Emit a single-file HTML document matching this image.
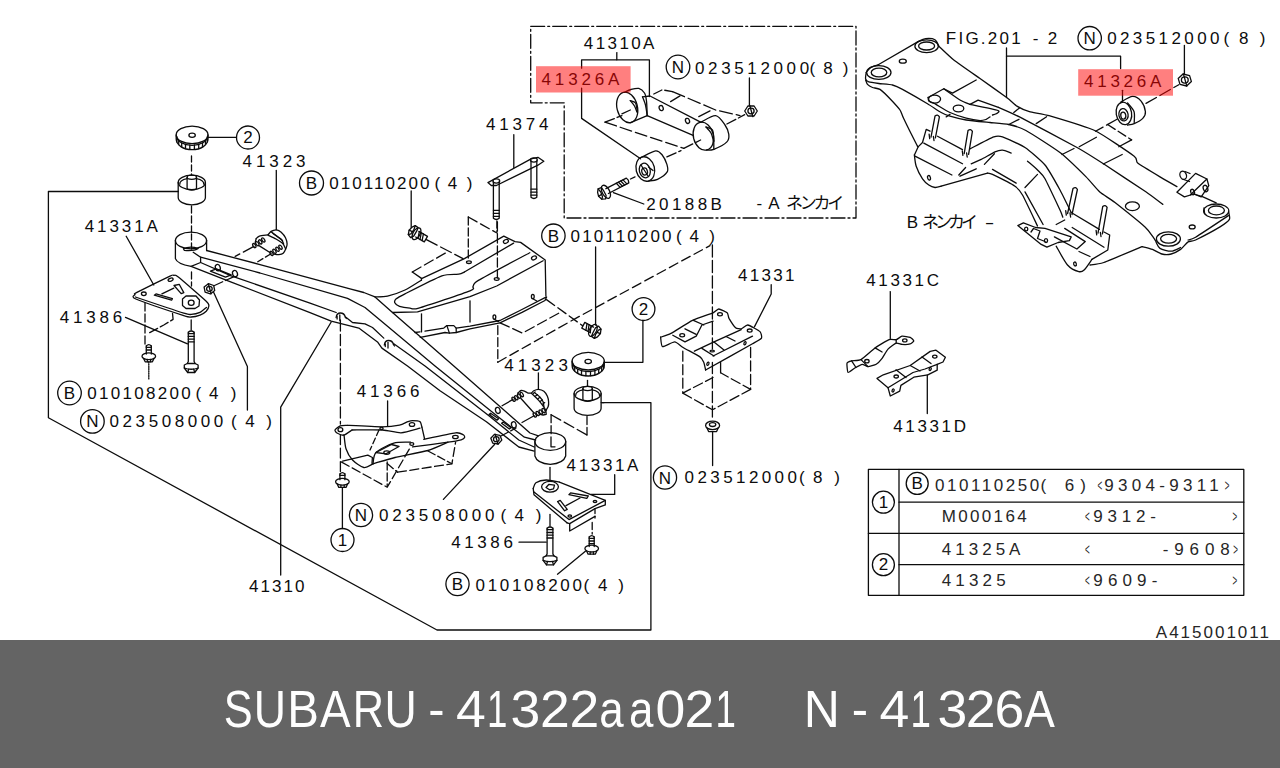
<!DOCTYPE html>
<html><head><meta charset="utf-8"><title>SUBARU - 41322aa021 N - 41326A</title>
<style>
html,body{margin:0;padding:0;background:#fff;}
body{width:1280px;height:768px;overflow:hidden;position:relative;font-family:"Liberation Sans",sans-serif;}
svg{position:absolute;left:0;top:0;display:block;}
#art path,#art ellipse{fill:none;stroke:#0c0c0c;stroke-width:1.3;stroke-linecap:round;stroke-linejoin:round;}
#art path.thin{stroke-width:1.05;stroke:#262626;}
#art text{fill:#0c0c0c;stroke:none;font-family:"Liberation Sans","Noto Sans CJK JP",sans-serif;font-size:17px;}
#art text.thin{fill:#262626;}
#art text.m{text-anchor:middle;}
#bar{position:absolute;left:0;top:640px;width:1280px;height:128px;background:#646464;}
</style></head><body>
<svg id="art" width="1280" height="640" viewBox="0 0 1280 640" role="img" aria-label="SUBARU rear crossmember parts diagram">
<desc>41310A 41326A N023512000(8) 20188B -A FIG.201-2 41374 41323 B010110200(4) 41331A 41386 B010108200(4) N023508000(4) 41310 41366 41331 41331C 41331D M000164 41325A 41325 A415001011</desc>
<path d="M178.2,191.5 L48.4,191.5 L48.4,417.8 L437.0,630.0 L650.9,630.0 L650.9,402.6 L602.0,402.6"/>
<path d="M564.2,102.8 L530.7,102.8 L530.7,26.3 L856.0,26.3 L856.0,218.0 L564.2,218.0 L564.2,102.8" stroke-dasharray="14 3 2 3"/>
<text x="242.5" y="166.95" font-size="18" textLength="63">41323</text>
<ellipse cx="248.0" cy="137.5" rx="11.5" ry="11.5"/>
<text class="m" x="248" y="143.45" font-size="16.5">2</text>
<ellipse cx="311.5" cy="183.0" rx="12.0" ry="12.0"/>
<text class="m" x="311.5" y="189.05" font-size="17">B</text>
<text x="329.35" y="189.45" font-size="18" textLength="100.1">010110200</text>
<text class="m" x="437.3" y="189.45" font-size="18">(</text>
<text class="m" x="452.5" y="189.45" font-size="18">4</text>
<text class="m" x="469.7" y="189.45" font-size="18">)</text>
<text x="485.95" y="130.45" font-size="17" textLength="62.4">41374</text>
<text x="583.85" y="49.45" font-size="17.5" textLength="70.6">41310A</text>
<text x="541.55" y="84.95" font-size="17" textLength="77.9">41326A</text>
<ellipse cx="678.0" cy="67.0" rx="11.8" ry="11.8"/>
<text class="m" x="678" y="73.05" font-size="17">N</text>
<text x="694.95" y="73.65" font-size="17.5" textLength="114.2">023512000</text>
<text class="m" x="812.3" y="73.65" font-size="17.5">(</text>
<text class="m" x="827.95" y="73.65" font-size="17.5">8</text>
<text class="m" x="845.7" y="73.65" font-size="17.5">)</text>
<text x="646.25" y="209.75" font-size="17" textLength="75.7">20188B</text>
<text x="756.6" y="209.15" font-size="16" textLength="22.9">-A</text>
<text x="785.9" y="208.5" font-size="13.5" textLength="58.4">ネンカイ</text>
<text x="945.85" y="44.25" font-size="17.5" textLength="74.8">FIG.201</text>
<text x="1032.65" y="44.25" font-size="17.5" textLength="24.6">-2</text>
<ellipse cx="1089.7" cy="38.2" rx="11.7" ry="11.7"/>
<text class="m" x="1089.7" y="44.25" font-size="17">N</text>
<text x="1107.15" y="44.25" font-size="17" textLength="112.3">023512000</text>
<text class="m" x="1226.3" y="44.25" font-size="17">(</text>
<text class="m" x="1243.85" y="44.25" font-size="17">8</text>
<text class="m" x="1262.7" y="44.25" font-size="17">)</text>
<text x="1084.05" y="86.95" font-size="17" textLength="77.3">41326A</text>
<text x="906.75" y="227.85" font-size="15.5">B</text>
<text x="921.9" y="227.5" font-size="13" textLength="56">ネンカイ</text>
<text x="984.86" y="227.85" font-size="16" textLength="9.6" lengthAdjust="spacingAndGlyphs">-</text>
<text x="84.75" y="232.45" font-size="18" textLength="73.2">41331A</text>
<text x="59.75" y="323.45" font-size="16.5" textLength="62.5">41386</text>
<ellipse cx="69.5" cy="393.0" rx="11.8" ry="11.8"/>
<text class="m" x="69.5" y="399.05" font-size="17">B</text>
<text x="87.25" y="399.45" font-size="17" textLength="103.5">010108200</text>
<text class="m" x="198.3" y="399.45" font-size="17">(</text>
<text class="m" x="213.7" y="399.45" font-size="17">4</text>
<text class="m" x="233.7" y="399.45" font-size="17">)</text>
<ellipse cx="92.4" cy="421.4" rx="11.8" ry="11.8"/>
<text class="m" x="92.4" y="427.45" font-size="17">N</text>
<text x="109.55" y="427.45" font-size="17" textLength="113.7">023508000</text>
<text class="m" x="233.8" y="427.45" font-size="17">(</text>
<text class="m" x="250.1" y="427.45" font-size="17">4</text>
<text class="m" x="269.2" y="427.45" font-size="17">)</text>
<text x="249.05" y="592.45" font-size="18" textLength="55.4">41310</text>
<text x="356.75" y="397.45" font-size="16.5" textLength="62.7">41366</text>
<ellipse cx="342.5" cy="540.0" rx="11.5" ry="11.5"/>
<text class="m" x="342.5" y="545.95" font-size="16.5">1</text>
<ellipse cx="361.0" cy="515.0" rx="11.6" ry="11.6"/>
<text class="m" x="361" y="521.05" font-size="17">N</text>
<text x="379.05" y="520.95" font-size="17" textLength="115.4">023508000</text>
<text class="m" x="503.3" y="520.95" font-size="17">(</text>
<text class="m" x="519.25" y="520.95" font-size="17">4</text>
<text class="m" x="538.7" y="520.95" font-size="17">)</text>
<text x="504.35" y="371.25" font-size="17.5" textLength="63.5">41323</text>
<ellipse cx="643.5" cy="309.1" rx="11.4" ry="11.4"/>
<text class="m" x="643.5" y="315.05" font-size="16.5">2</text>
<ellipse cx="553.4" cy="235.7" rx="11.7" ry="11.7"/>
<text class="m" x="553.4" y="241.75" font-size="17">B</text>
<text x="570.55" y="242.35" font-size="18" textLength="100.9">010110200</text>
<text class="m" x="678.8" y="242.35" font-size="18">(</text>
<text class="m" x="694.25" y="242.35" font-size="18">4</text>
<text class="m" x="712.2" y="242.35" font-size="18">)</text>
<text x="566.55" y="470.65" font-size="17.5" textLength="71.9">41331A</text>
<text x="451.15" y="548.25" font-size="17" textLength="61.7">41386</text>
<ellipse cx="457.5" cy="584.0" rx="11.6" ry="11.6"/>
<text class="m" x="457.5" y="590.05" font-size="17">B</text>
<text x="475.55" y="590.95" font-size="17" textLength="106.4">010108200</text>
<text class="m" x="586.3" y="590.95" font-size="17">(</text>
<text class="m" x="602.65" y="590.95" font-size="17">4</text>
<text class="m" x="621.2" y="590.95" font-size="17">)</text>
<text x="738.05" y="281.45" font-size="17.5" textLength="56.5">41331</text>
<ellipse cx="665.0" cy="477.5" rx="11.6" ry="11.6"/>
<text class="m" x="665" y="483.55" font-size="17">N</text>
<text x="684.55" y="483.45" font-size="18" textLength="112.4">023512000</text>
<text class="m" x="801.8" y="483.45" font-size="18">(</text>
<text class="m" x="817.65" y="483.45" font-size="18">8</text>
<text class="m" x="837.2" y="483.45" font-size="18">)</text>
<text x="866.25" y="285.75" font-size="17" textLength="72.7">41331C</text>
<text x="893.25" y="432.45" font-size="17.5" textLength="72.7">41331D</text>
<text class="thin" x="1155.85" y="638.05" font-size="16.5" textLength="113.1">A415001011</text>
<path d="M868.4,469.4 L1243.8,469.4 L1243.8,595.3 L868.4,595.3 Z"/>
<path d="M899.0,469.4 L899.0,595.3"/>
<path d="M899.0,502.2 L1243.8,502.2"/>
<path d="M868.4,533.4 L1243.8,533.4"/>
<path d="M899.0,564.7 L1243.8,564.7"/>
<ellipse cx="883.4" cy="502.2" rx="11.0" ry="11.0"/>
<text class="m" x="883.4" y="507.95" font-size="16">1</text>
<ellipse cx="883.4" cy="564.7" rx="11.0" ry="11.0"/>
<text class="m" x="883.4" y="570.45" font-size="16">2</text>
<ellipse cx="917.2" cy="483.4" rx="11.0" ry="11.0"/>
<text class="m" x="917.2" y="489.15" font-size="16">B</text>
<text class="thin" x="934.95" y="490.65" font-size="18" textLength="104.2">010110250</text>
<text class="thin m" x="1043.3" y="490.65" font-size="18">(</text>
<text class="thin m" x="1069.45" y="490.65" font-size="18">6</text>
<text class="thin m" x="1083.2" y="490.65" font-size="18">)</text>
<text class="thin" x="1097.5" y="490.65" font-size="18" textLength="4.7" lengthAdjust="spacingAndGlyphs">&lt;</text>
<text class="thin" x="1104.35" y="490.65" font-size="18" textLength="114.45">9304-9311</text>
<text class="thin" x="1224.83" y="490.65" font-size="18" textLength="4.7" lengthAdjust="spacingAndGlyphs">&gt;</text>
<text class="thin" x="941.75" y="522.25" font-size="17" textLength="84.9">M000164</text>
<text class="thin" x="1085" y="522.25" font-size="17" textLength="4.7" lengthAdjust="spacingAndGlyphs">&lt;</text>
<text class="thin" x="1093.35" y="522.25" font-size="17" textLength="62.5">9312-</text>
<text class="thin" x="1232.62" y="522.25" font-size="17" textLength="4.7" lengthAdjust="spacingAndGlyphs">&gt;</text>
<text class="thin" x="941.75" y="555.05" font-size="17" textLength="78.7">41325A</text>
<text class="thin" x="1085" y="555.05" font-size="17" textLength="4.7" lengthAdjust="spacingAndGlyphs">&lt;</text>
<text class="thin" x="1162.7" y="555.05" font-size="17" textLength="67.05">-9608</text>
<text class="thin" x="1233.31" y="555.05" font-size="17" textLength="4.7" lengthAdjust="spacingAndGlyphs">&gt;</text>
<text class="thin" x="941.75" y="585.85" font-size="17.5" textLength="63.9">41325</text>
<text class="thin" x="1085" y="585.85" font-size="17.5" textLength="4.7" lengthAdjust="spacingAndGlyphs">&lt;</text>
<text class="thin" x="1093.35" y="585.85" font-size="17.5" textLength="63.97">9609-</text>
<text class="thin" x="1232.62" y="585.85" font-size="17.5" textLength="4.7" lengthAdjust="spacingAndGlyphs">&gt;</text>
<ellipse cx="192.1" cy="134.9" rx="15.9" ry="8.8"/>
<ellipse cx="192.1" cy="135.2" rx="3.2" ry="2.1"/>
<path d="M176.2,134.9 L176.2,139.1 A15.9,10.6 0 0 0 208.0,139.1 L208.0,134.9"/>
<path d="M176.8,136.5 A15.3,8.8 0 0 0 207.4,136.5"/>
<path d="M176.8,138.8 L176.8,141.9"/>
<path d="M178.7,141.1 L178.7,144.6"/>
<path d="M181.7,143.0 L181.7,146.9"/>
<path d="M185.5,144.3 L185.5,148.5"/>
<path d="M189.8,145.0 L189.8,149.4"/>
<path d="M194.4,145.0 L194.4,149.4"/>
<path d="M198.7,144.3 L198.7,148.5"/>
<path d="M202.5,143.0 L202.5,146.9"/>
<path d="M205.5,141.1 L205.5,144.6"/>
<path d="M207.4,138.8 L207.4,141.9"/>
<path d="M208.0,137.3 L236.5,137.3"/>
<path d="M191.5,156.0 L191.5,175.0" stroke-dasharray="6 3"/>
<ellipse cx="191.8" cy="182.4" rx="13.6" ry="7.2"/>
<path d="M178.2,182.4 L178.2,197.6 A13.6,7.2 0 0 0 205.4,197.6 L205.4,182.4"/>
<ellipse cx="191.8" cy="177.3" rx="4.7" ry="2.1"/>
<path d="M187.1,177.3 L187.1,188.0 A4.7,2.1 0 0 0 196.5,188.0 L196.5,177.3"/>
<path d="M179.8,184.2 A12.0,5.8 0 0 1 187.1,178.6"/>
<path d="M196.5,178.6 A12.0,5.8 0 0 1 203.8,184.2"/>
<path d="M191.5,206.0 L191.5,232.0" stroke-dasharray="7 3"/>
<ellipse cx="191.0" cy="240.5" rx="15.6" ry="8.4"/>
<path d="M175.4,240.5 L175.4,258.6 Q177,263.8 191.1,266.3 L200.6,262.5 L200.6,257.2"/>
<path d="M206.6,240.5 L206.6,250.5"/>
<path d="M191.5,234.0 L191.5,249.0" stroke-dasharray="6 3"/>
<path d="M183.4,248.7 Q190.4,245.6 198.1,248.5 Q194.6,251.2 184.4,250.4 Z"/>
<path d="M206.6,250.5 L260.0,264.6 L350.0,288.9 L363.8,292.5 L375.0,296.9 L392.5,312.5 L453.8,366.0 L530.0,433.0 L538.4,435.8"/>
<path d="M193.2,252.3 L200.6,257.2 L260.0,273.0 L347.5,298.4 L365.0,307.5 L387.5,326.2 L435.0,366.0 L499.0,417.5 L524.4,437.2 L535.6,440.0"/>
<path d="M200.6,262.5 L231.2,275.8 L310.0,303.2 L336.2,312.5"/>
<path d="M346.2,317.5 L352.5,322.5 L365.0,323.8 L372.5,327.5 L383.8,338.1"/>
<path d="M393.8,343.8 L425.0,366.0 L489.2,416.1 L518.8,440.0 L534.2,447.0"/>
<path d="M191.1,266.3 L230.0,281.6 L310.0,312.6 L331.2,321.2 L358.8,328.1 L377.5,341.9 L381.9,348.1 L407.5,366.0 L440.0,390.8 L486.4,421.7 L518.8,447.0 L534.2,451.2"/>
<path d="M336.1,317.5 Q336.8,313.0 340.3,313.0 Q344.3,313.0 345.3,317.0"/>
<path d="M339.8,315.0 L339.8,320.5"/>
<path d="M337.1,316.5 L337.1,319.0"/>
<path d="M345.3,317.0 L346.3,318.5"/>
<path d="M384.3,345.0 Q385.0,340.5 388.5,340.5 Q392.5,340.5 393.5,344.5"/>
<path d="M388.0,342.5 L388.0,348.0"/>
<path d="M385.3,344.0 L385.3,346.5"/>
<path d="M393.5,344.5 L394.5,346.0"/>
<ellipse cx="217.8" cy="267.6" rx="2.4" ry="3.2" transform="rotate(-20 217.8 267.6)"/>
<ellipse cx="235.0" cy="273.6" rx="2.4" ry="3.2" transform="rotate(-20 235.0 273.6)"/>
<path d="M210.4,271.2 L216.4,268.8 L231.2,274.8 L225.5,277.2 Z"/>
<path d="M276.3,170.5 L276.3,229.8"/>
<path d="M256.2,238.6 C256.6,238.3 257.8,236.6 259.4,236.1 C261.0,235.6 266.9,235.1 268.0,234.9"/>
<path d="M268.0,234.9 C268.4,234.4 270.0,232.1 271.1,231.4 C272.2,230.7 275.3,229.7 276.6,229.8 C277.9,229.9 280.0,231.1 281.2,232.2 C282.4,233.3 284.7,236.1 285.5,237.7 C286.3,239.3 287.0,242.4 287.1,243.9 C287.2,245.4 286.4,247.3 285.9,248.6 C285.4,249.9 284.1,252.5 283.2,253.3 C282.3,254.1 280.2,254.5 278.9,254.6 C277.6,254.7 274.1,254.1 273.4,254.0"/>
<path d="M268.4,235.3 C269.4,235.8 274.1,237.9 276.0,239.0 C277.9,240.1 281.5,242.2 282.8,243.5 C284.1,244.8 285.2,248.3 285.6,249.0"/>
<path d="M271.1,231.8 C272.4,232.8 279.5,237.6 281.2,239.2 C282.9,240.8 283.3,243.3 283.6,243.9"/>
<path d="M273.0,233.4 L282.5,240.6"/>
<ellipse cx="254.3" cy="245.6" rx="1.3" ry="2.3" transform="rotate(-32 254.3 245.6)"/>
<ellipse cx="257.3" cy="243.7" rx="1.3" ry="2.3" transform="rotate(-32 257.3 243.7)"/>
<ellipse cx="260.3" cy="241.9" rx="1.3" ry="2.3" transform="rotate(-32 260.3 241.9)"/>
<ellipse cx="263.3" cy="240.0" rx="1.3" ry="2.3" transform="rotate(-32 263.3 240.0)"/>
<ellipse cx="271.5" cy="253.4" rx="1.3" ry="2.3" transform="rotate(-32 271.5 253.4)"/>
<ellipse cx="274.5" cy="251.3" rx="1.3" ry="2.3" transform="rotate(-32 274.5 251.3)"/>
<ellipse cx="277.5" cy="249.3" rx="1.3" ry="2.3" transform="rotate(-32 277.5 249.3)"/>
<ellipse cx="280.5" cy="247.2" rx="1.3" ry="2.3" transform="rotate(-32 280.5 247.2)"/>
<path d="M259.4,245.9 L271.1,253.3"/>
<path d="M256.2,238.6 L255.2,242.5"/>
<path d="M253.9,246.4 L235.2,256.4" stroke-dasharray="12 4"/>
<path d="M270.6,254.0 L256.2,262.7" stroke-dasharray="6 3"/>
<path d="M126.2,236.2 L153.8,285.0"/>
<path d="M135.0,294.6 C135.1,293.8 132.8,294.4 136.9,292.3 C141.0,290.2 165.7,278.2 170.0,276.2 C174.3,274.2 173.0,275.3 174.0,275.4 C175.0,275.5 174.5,274.0 178.3,277.0 C182.1,280.0 202.6,297.8 206.2,301.2 C209.8,304.6 208.8,305.0 208.8,306.2 C208.8,307.4 207.2,310.1 206.2,311.2 C205.2,312.2 201.8,314.5 200.0,315.2 C198.2,315.9 193.1,317.0 191.2,317.0 C189.3,317.0 190.3,317.7 183.8,315.6 C177.3,313.5 141.5,301.4 135.8,299.0 C130.1,296.6 134.9,295.4 135.0,294.6 Z"/>
<path d="M135.4,297.0 C141.0,298.9 177.3,311.1 183.8,313.1 C190.3,315.1 189.3,314.5 191.2,314.4 C193.1,314.3 198.2,313.2 200.0,312.4 C201.8,311.6 205.7,308.0 206.5,307.4"/>
<ellipse cx="170.6" cy="279.7" rx="2.6" ry="1.5" transform="rotate(-20 170.6 279.7)"/>
<ellipse cx="143.8" cy="293.8" rx="2.4" ry="1.8"/>
<path d="M182.5,299.0 L186.0,296.0 L196.0,296.0 L199.5,300.0 L199.0,306.0 L195.0,308.5 L186.0,308.5 L182.5,305.5 Z"/>
<ellipse cx="191.2" cy="302.7" rx="2.9" ry="2.6"/>
<path d="M174.0,285.5 L179.2,284.3 L183.8,292.6 L181.2,293.6 Z"/>
<path d="M154.3,295.2 L156.0,293.9 L172.4,298.6 L171.6,300.2 Z"/>
<path d="M161.9,293.8 L173.8,288.1"/>
<path d="M145.0,303.0 L145.0,346.0" stroke-dasharray="8 3"/>
<path d="M172.5,313.3 L173.1,319.4 L163.8,325.0 L147.5,333.8" stroke-dasharray="9 3"/>
<path d="M125.5,317.3 L187.5,343.8"/>
<path d="M191.2,320.0 L191.2,330.0"/>
<path d="M188.3,332.2 L188.3,361.5 L187.3,363.5"/>
<path d="M194.1,332.2 L194.1,361.5 L195.1,363.5"/>
<path d="M188.3,332.2 Q191.2,329.7 194.1,332.2"/>
<path d="M188.3,333.7 L194.1,333.7"/>
<path d="M188.3,336.4 L194.1,336.4"/>
<path d="M188.3,339.2 L194.1,339.2"/>
<path d="M188.3,341.9 L194.1,341.9"/>
<path d="M187.3,363.5 L184.3,365.0 L184.3,368.0 L187.7,372.5 L194.7,372.5 L198.1,368.0 L198.1,365.0 L195.1,363.5 Z"/>
<path d="M184.3,368.0 Q191.2,370.5 198.1,368.0"/>
<path d="M188.7,369.1 L187.7,372.5"/>
<path d="M193.7,369.1 L194.7,372.5"/>
<path d="M146.3,354.1 L146.3,346.0"/>
<path d="M151.3,354.1 L151.3,346.0"/>
<path d="M146.3,346.0 Q148.8,343.4 151.3,346.0"/>
<path d="M146.3,347.4 L151.3,347.4"/>
<path d="M146.3,350.0 L151.3,350.0"/>
<ellipse cx="148.8" cy="356.2" rx="6.8" ry="3.4"/>
<path d="M143.6,358.4 L145.2,361.8 L152.4,361.8 L154.0,358.4"/>
<path d="M147.3,359.5 L147.3,361.8"/>
<path d="M150.6,359.5 L150.6,361.8"/>
<path d="M148.8,361.6 L148.8,380" stroke-dasharray="1.2 1.1"/>
<path d="M214.7,290.6 L210.4,293.9 L205.1,292.1 L204.1,287.0 L208.4,283.7 L213.7,285.5 Z"/>
<ellipse cx="209.4" cy="288.8" rx="2.8" ry="2.5"/>
<path d="M208.3,283.8 L211.1,293.8"/>
<path d="M213.5,292.0 L247.4,366.5 L247.4,410.0"/>
<path d="M214.5,285.5 L233.5,276.8" stroke-dasharray="9 3"/>
<path d="M331.2,322.0 L280.7,407.2 L280.7,575.0"/>
<path d="M191.5,272.0 L191.5,286.0" stroke-dasharray="7 3"/>
<path d="M375.0,296.9 C376.7,296.8 383.5,297.1 387.5,296.2 C391.5,295.3 400.5,292.1 405.0,290.0 C409.5,287.9 419.0,281.5 421.2,280.2"/>
<path d="M421.5,280.3 L421.5,278.6 L464.4,258.6 L503.8,236.1 L515.0,241.7 L520.6,242.4 L545.2,260.0 L545.9,295.9"/>
<path d="M513.6,243.1 L464.4,272.0"/>
<path d="M464.4,272.0 C463.7,272.3 461.4,273.8 458.8,274.2 C456.2,274.6 448.2,273.5 441.9,275.8 C435.6,278.1 410.3,291.1 405.0,293.8 C399.7,296.5 397.4,297.8 396.2,298.8 C395.0,299.9 394.4,301.9 394.8,302.8 C395.2,303.7 397.7,305.8 399.5,306.4 C401.3,307.0 407.7,308.0 410.0,308.2 C412.3,308.4 411.8,310.1 418.8,308.1 C425.8,306.1 463.7,293.3 470.0,290.8 C476.3,288.3 472.0,287.9 473.0,286.7 C474.0,285.5 471.8,284.4 478.4,280.4 C485.0,276.4 523.8,255.9 529.8,252.7"/>
<path d="M543.1,260.7 L496.7,286.0 L470.0,296.7 L417.5,311.9 L392.5,312.5"/>
<ellipse cx="505.9" cy="241.4" rx="2.6" ry="1.8" transform="rotate(-25 505.9 241.4)"/>
<ellipse cx="534.0" cy="257.9" rx="2.6" ry="1.8" transform="rotate(-25 534.0 257.9)"/>
<ellipse cx="468.9" cy="262.2" rx="2.4" ry="1.3"/>
<ellipse cx="496.7" cy="279.0" rx="2.4" ry="1.3"/>
<path d="M421.5,313.8 L421.5,331.9"/>
<path d="M470.0,300.8 L470.0,322.0"/>
<path d="M415.0,332.5 L420.0,331.9"/>
<path d="M425.0,331.2 L443.8,328.1 L446.9,325.6 L453.8,325.6 L456.2,328.1 L470.0,326.2 L500.0,320.5 L520.0,310.5 L546.0,297.2"/>
<path d="M420.3,337.4 L445.0,332.5 L449.4,333.1 L456.2,332.5 L470.0,328.8 L500.0,322.8 L522.0,312.4 L545.0,300.5 L546.6,297.0"/>
<path d="M446.9,325.6 L449.4,333.1"/>
<path d="M456.2,328.1 L456.2,332.5"/>
<ellipse cx="494.4" cy="317.1" rx="1.4" ry="2.2"/>
<path d="M494.4,319.3 L498.4,321.6"/>
<ellipse cx="532.8" cy="296.5" rx="1.4" ry="2.2"/>
<path d="M532.8,298.7 L536.8,301.0"/>
<path d="M468.3,217.0 L468.3,261.0" stroke-dasharray="8 3"/>
<path d="M468.3,217.0 L497.4,233.3" stroke-dasharray="10 4"/>
<path d="M497.4,222.0 L497.4,278.0" stroke-dasharray="9 3"/>
<path d="M426.4,239.6 L463.0,258.6" stroke-dasharray="12 4"/>
<path d="M412.3,272.0 L447.5,251.8" stroke-dasharray="10 4"/>
<path d="M412.3,272.0 L421.5,278.4"/>
<path d="M500.0,322.8 L522.5,333.1 L560.0,312.5" stroke-dasharray="10 4"/>
<path d="M546.5,299.6 L582.5,325.6" stroke-dasharray="10 4"/>
<path d="M497.8,325.6 L497.8,362.2" stroke-dasharray="9 3"/>
<path d="M497.8,362.2 L576.2,318.1 L710.0,245.6" stroke-dasharray="9.5 4.5"/>
<path d="M411.2,191.0 L411.2,227.5"/>
<path d="M412.1,227.1 L415.2,225.6 L418.1,227.6 L416.8,230.9 L413.7,236.2 L410.6,237.7 L408.3,234.6 L409.1,230.2 Z"/>
<path d="M415.2,225.6 L413.9,229.7 L410.9,233.8 L408.3,234.6"/>
<path d="M409.1,230.2 L412.3,231.7"/>
<ellipse cx="416.5" cy="233.7" rx="3.5" ry="6.5" transform="rotate(30 416.5 233.7)"/>
<path d="M419.3,231.6 L418.0,238.3"/>
<path d="M421.3,232.8 L420.0,239.5"/>
<path d="M423.4,234.0 L422.1,240.7"/>
<path d="M418.9,231.4 L427.5,236.4 L424.3,241.9 L415.7,237.0"/>
<path d="M595.6,247.0 L595.6,325.0"/>
<path d="M597.5,336.8 L594.4,338.4 L591.5,336.5 L592.7,333.2 L595.5,327.8 L598.6,326.2 L601.0,329.2 L600.4,333.6 Z"/>
<path d="M594.4,338.4 L595.6,334.3 L598.5,330.1 L601.0,329.2"/>
<path d="M600.4,333.6 L597.1,332.3"/>
<ellipse cx="592.9" cy="330.4" rx="3.5" ry="6.5" transform="rotate(208 592.9 330.4)"/>
<path d="M590.2,332.5 L591.2,325.9"/>
<path d="M588.0,331.4 L589.1,324.7"/>
<path d="M585.9,330.3 L587.0,323.6"/>
<path d="M590.5,332.7 L581.8,328.1 L584.8,322.4 L593.5,327.1"/>
<path d="M513.8,134.7 L513.8,167.5"/>
<path d="M487.9,182.6 L531.1,158.9 L537.9,157.3 L543.8,161.3 L537.9,165.2 L496.4,185.5 L491.3,185.5 Z"/>
<ellipse cx="496.3" cy="181.0" rx="3.4" ry="2.1"/>
<path d="M493.4,182.0 L493.4,218.3 Q496.3,220.8 499.2,218.3 L499.2,182.0"/>
<path d="M493.4,216.3 L499.2,216.3"/>
<path d="M493.4,213.3 L499.2,213.3"/>
<path d="M493.4,210.3 L499.2,210.3"/>
<ellipse cx="533.9" cy="160.0" rx="3.4" ry="2.1"/>
<path d="M531.0,161.0 L531.0,197.2 Q533.9,199.7 536.8,197.2 L536.8,161.0"/>
<path d="M531.0,195.2 L536.8,195.2"/>
<path d="M531.0,192.2 L536.8,192.2"/>
<path d="M531.0,189.2 L536.8,189.2"/>
<path d="M496.9,221.0 L496.9,232.0" stroke-dasharray="7 3"/>
<path d="M387.6,401.0 L387.6,426.2"/>
<path d="M340.4,320.0 L340.4,424.0" stroke-dasharray="11 3.5"/>
<path d="M347.3,425.3 C346.6,425.4 341.4,425.3 340.2,425.8 C339.0,426.3 335.3,429.3 335.0,430.0 C334.7,430.7 336.1,432.5 337.0,433.0 C337.9,433.5 342.3,435.5 343.8,435.2 C345.3,434.9 351.2,430.5 352.0,430.0"/>
<ellipse cx="340.4" cy="429.7" rx="2.4" ry="2.0"/>
<path d="M347.3,425.3 C351.3,425.5 375.9,426.8 382.0,426.8 C388.1,426.8 396.5,425.8 399.5,425.2 C402.5,424.6 406.5,422.1 408.0,421.6 C409.5,421.1 411.1,420.6 412.5,420.6 C413.9,420.6 418.9,420.8 420.0,421.6 C421.1,422.4 421.7,426.5 421.9,427.2"/>
<path d="M352.0,430.0 C355.6,430.0 376.8,429.7 382.5,430.0 C388.2,430.3 396.6,433.0 401.0,432.8 C405.4,432.6 417.8,428.7 420.0,428.2"/>
<ellipse cx="412.0" cy="424.5" rx="2.7" ry="1.9"/>
<ellipse cx="381.5" cy="428.3" rx="1.6" ry="1.2"/>
<path d="M421.9,427.2 L424.5,438.5"/>
<path d="M423.8,439.4 C427.5,438.6 451.0,433.3 455.6,432.8 C460.2,432.3 462.1,434.2 463.1,434.7 C464.2,435.2 464.8,436.9 464.6,437.5 C464.4,438.1 463.1,439.3 461.2,439.8 C459.3,440.3 453.7,441.4 448.0,442.2 C442.3,443.0 416.6,446.4 412.5,446.9"/>
<ellipse cx="455.4" cy="437.0" rx="2.8" ry="1.7"/>
<path d="M344.0,434.7 C344.3,436.6 344.9,445.4 346.0,448.8 C347.1,452.2 350.1,457.5 352.5,460.0 C354.9,462.5 361.1,467.0 363.8,467.5 C366.5,468.0 371.8,464.3 373.0,463.8"/>
<path d="M373.0,463.8 C373.4,462.3 373.2,455.3 376.0,452.5 C378.8,449.7 389.2,444.5 393.8,443.1 C398.4,441.7 408.4,442.3 410.6,442.2"/>
<path d="M373.0,463.8 C375.2,463.2 389.5,458.8 395.0,457.5 C400.5,456.2 422.7,452.0 428.0,450.5 C433.3,449.0 446.0,443.0 448.0,442.2"/>
<path d="M376.0,452.5 L391.5,444.5 L399.0,446.5 L386.0,453.8 Z"/>
<ellipse cx="386.8" cy="452.6" rx="3.0" ry="1.7"/>
<ellipse cx="411.8" cy="444.0" rx="2.0" ry="1.4"/>
<path d="M379.0,430.0 L370.0,450.0" stroke-dasharray="6 3"/>
<path d="M341.2,461.9 L387.2,487.2 L410.6,446.9" stroke-dasharray="9 3.5"/>
<path d="M342.6,461.2 L367.8,455.2 L372.4,457.5 L372.0,463.4"/>
<path d="M397.5,472.2 L451.9,463.8 L455.6,442.2" stroke-dasharray="9 3.5"/>
<path d="M387.2,462.0 L387.2,486.2" stroke-dasharray="8 3"/>
<path d="M428.0,451.0 L451.9,463.8" stroke-dasharray="8 3"/>
<path d="M387.2,463.5 L397.5,472.2" stroke-dasharray="8 3"/>
<path d="M340.4,434.6 L340.4,472.0" stroke-dasharray="10 3.5"/>
<path d="M339.9,479.7 L339.9,474.0"/>
<path d="M344.9,479.7 L344.9,474.0"/>
<path d="M339.9,474.0 Q342.4,471.4 344.9,474.0"/>
<path d="M339.9,475.4 L344.9,475.4"/>
<ellipse cx="342.4" cy="481.8" rx="6.8" ry="3.4"/>
<path d="M337.2,484.0 L338.8,487.4 L346.0,487.4 L347.6,484.0"/>
<path d="M340.9,485.1 L340.9,487.4"/>
<path d="M344.2,485.1 L344.2,487.4"/>
<path d="M342.4,488.0 L342.4,528.5"/>
<path d="M501.8,440.1 L498.2,444.0 L492.7,443.1 L490.8,438.3 L494.4,434.4 L499.9,435.3 Z"/>
<ellipse cx="496.3" cy="439.2" rx="2.8" ry="2.5"/>
<path d="M495.2,434.2 L498.0,444.2"/>
<path d="M494.5,444.5 L443.4,499.4"/>
<path d="M501.0,436.0 L516.0,428.0" stroke-dasharray="8 3"/>
<ellipse cx="497.8" cy="410.4" rx="2.3" ry="3.1" transform="rotate(-15 497.8 410.4)"/>
<ellipse cx="513.8" cy="424.8" rx="2.3" ry="3.1" transform="rotate(-15 513.8 424.8)"/>
<path d="M489.0,414.4 L490.6,413.2 L498.6,418.8 L497.0,420.2 Z"/>
<path d="M501.6,423.3 L503.2,422.1 L511.0,427.8 L509.4,429.0 Z"/>
<path d="M538.4,372.8 L538.4,389.4"/>
<path d="M518.1,392.8 C518.5,392.5 520.4,390.7 521.2,390.5 C522.0,390.3 523.6,390.9 524.4,391.2 C525.2,391.5 526.6,392.5 527.5,392.8 C528.4,393.1 530.9,393.1 531.4,393.2"/>
<path d="M531.4,393.2 C531.7,392.9 532.9,391.3 533.8,390.8 C534.7,390.3 537.1,389.2 538.4,389.3 C539.7,389.4 542.7,390.3 543.9,391.2 C545.1,392.1 546.8,394.9 547.4,396.3 C548.0,397.7 548.5,400.4 548.6,401.8 C548.7,403.2 548.6,405.4 548.2,406.5 C547.8,407.6 546.2,409.9 545.9,410.4"/>
<path d="M545.9,410.4 L546.2,414.3 L543.1,415.0 L540.0,414.3"/>
<path d="M531.8,393.6 C532.5,394.3 537.3,398.8 538.5,400.2 C539.7,401.6 543.2,406.2 543.9,407.2 C544.6,408.2 545.7,410.1 545.9,410.4"/>
<path d="M534.5,392.6 C535.0,393.1 539.1,396.3 540.0,397.2 C540.9,398.1 542.7,400.9 543.1,401.8 C543.5,402.7 543.8,406.0 543.9,406.5"/>
<path d="M533.2,393.4 L535.1,392.0"/>
<path d="M535.6,396.0 L537.5,394.6"/>
<path d="M538.0,398.7 L539.9,397.3"/>
<path d="M540.4,401.3 L542.3,399.9"/>
<path d="M542.8,404.0 L544.7,402.6"/>
<ellipse cx="513.6" cy="399.2" rx="1.3" ry="2.3" transform="rotate(-30 513.6 399.2)"/>
<ellipse cx="516.3" cy="397.7" rx="1.3" ry="2.3" transform="rotate(-30 516.3 397.7)"/>
<ellipse cx="519.1" cy="396.1" rx="1.3" ry="2.3" transform="rotate(-30 519.1 396.1)"/>
<ellipse cx="521.8" cy="394.6" rx="1.3" ry="2.3" transform="rotate(-30 521.8 394.6)"/>
<ellipse cx="534.8" cy="415.0" rx="1.3" ry="2.3" transform="rotate(-30 534.8 415.0)"/>
<ellipse cx="537.7" cy="413.5" rx="1.3" ry="2.3" transform="rotate(-30 537.7 413.5)"/>
<ellipse cx="540.7" cy="412.1" rx="1.3" ry="2.3" transform="rotate(-30 540.7 412.1)"/>
<ellipse cx="543.6" cy="410.6" rx="1.3" ry="2.3" transform="rotate(-30 543.6 410.6)"/>
<path d="M518.1,392.8 L517.4,395.6"/>
<path d="M521.2,398.7 L533.8,412.7"/>
<path d="M513.0,399.4 L502.1,405.7"/>
<path d="M534.1,415.8 L522.0,422.5"/>
<ellipse cx="550.3" cy="441.5" rx="15.4" ry="8.9"/>
<path d="M534.9,441.5 L534.9,456 Q537,463.5 550.3,464.3 Q563.5,463.5 565.7,456 L565.7,441.5"/>
<path d="M551.1,414.7 L551.1,434.0" stroke-dasharray="8 3"/>
<path d="M551.0,437.0 L551.0,446.8 L555.0,446.8"/>
<path d="M551.1,414.7 L587.0,435.0" stroke-dasharray="11 4"/>
<path d="M587.0,416.5 L587.0,435.0" stroke-dasharray="8 3"/>
<ellipse cx="588.2" cy="361.2" rx="16.1" ry="8.8"/>
<ellipse cx="588.2" cy="361.5" rx="3.2" ry="2.1"/>
<path d="M572.1,361.2 L572.1,365.4 A16.1,10.6 0 0 0 604.3,365.4 L604.3,361.2"/>
<path d="M572.7,362.8 A15.5,8.8 0 0 0 603.7,362.8"/>
<path d="M572.8,365.1 L572.8,368.2"/>
<path d="M574.7,367.4 L574.7,370.9"/>
<path d="M577.7,369.3 L577.7,373.2"/>
<path d="M581.5,370.6 L581.5,374.8"/>
<path d="M585.9,371.3 L585.9,375.7"/>
<path d="M590.5,371.3 L590.5,375.7"/>
<path d="M594.9,370.6 L594.9,374.8"/>
<path d="M598.7,369.3 L598.7,373.2"/>
<path d="M601.7,367.4 L601.7,370.9"/>
<path d="M603.6,365.1 L603.6,368.2"/>
<path d="M604.5,362.3 L642.9,362.3 L642.9,320.5"/>
<path d="M587.5,380.4 L587.5,386.3"/>
<ellipse cx="587.6" cy="393.6" rx="13.5" ry="7.2"/>
<path d="M574.1,393.6 L574.1,408.2 A13.5,7.2 0 0 0 601.1,408.2 L601.1,393.6"/>
<ellipse cx="587.6" cy="388.5" rx="4.7" ry="2.1"/>
<path d="M582.9,388.5 L582.9,399.2 A4.7,2.1 0 0 0 592.3,399.2 L592.3,388.5"/>
<path d="M575.7,395.4 A11.9,5.8 0 0 1 582.9,389.8"/>
<path d="M592.3,389.8 A11.9,5.8 0 0 1 599.5,395.4"/>
<path d="M601.2,402.6 L604.0,402.6"/>
<path d="M550.0,467.4 L550.0,479.4"/>
<path d="M533.2,488.5 C533.6,487.7 534.2,483.9 535.9,482.8 C537.6,481.7 543.1,480.1 546.2,480.0 C549.3,479.9 557.6,481.9 559.4,482.2"/>
<path d="M559.4,482.2 L605.3,500.4 L605.3,504.9 L595.0,508.6 L569.7,523.6 L567.0,522.8"/>
<path d="M605.3,500.4 L569.0,519.6 L534.0,492.0"/>
<path d="M533.2,488.5 L534.0,494.8 L567.0,522.8"/>
<ellipse cx="550.0" cy="486.8" rx="8.4" ry="5.4"/>
<path d="M546,487.5 L549,484.3 L554.5,485.2 L553.5,488.8 L549.5,489.8 Z"/>
<path d="M568.9,494.6 L570.6,492.9 L588.3,496.0 L586.8,498.3 Z"/>
<path d="M557.6,501.6 L560.2,500.4 L567.2,509.4 L564.6,510.8 Z"/>
<path d="M580.0,498.0 L566.0,505.6"/>
<ellipse cx="569.8" cy="516.0" rx="1.8" ry="1.1"/>
<ellipse cx="595.0" cy="501.4" rx="1.8" ry="1.1"/>
<path d="M569.7,523.6 L569.7,531.0 L595.0,516.4"/>
<path d="M595.0,508.6 L595.0,518.0" stroke-dasharray="5 2.5"/>
<path d="M592.2,522.5 L592.2,534.0" stroke-dasharray="7 3"/>
<path d="M614.7,474.7 L614.7,494.4 L591.2,494.4"/>
<path d="M550.0,514.5 L550.0,526.2"/>
<path d="M547.1,528.2 L547.1,553.9 L546.1,555.9"/>
<path d="M552.9,528.2 L552.9,553.9 L553.9,555.9"/>
<path d="M547.1,528.2 Q550.0,525.7 552.9,528.2"/>
<path d="M547.1,529.7 L552.9,529.7"/>
<path d="M547.1,532.5 L552.9,532.5"/>
<path d="M547.1,535.2 L552.9,535.2"/>
<path d="M547.1,538.0 L552.9,538.0"/>
<path d="M546.1,555.9 L543.1,557.4 L543.1,560.4 L546.5,564.9 L553.5,564.9 L556.9,560.4 L556.9,557.4 L553.9,555.9 Z"/>
<path d="M543.1,560.4 Q550.0,562.9 556.9,560.4"/>
<path d="M547.5,561.5 L546.5,564.9"/>
<path d="M552.5,561.5 L553.5,564.9"/>
<path d="M519.0,542.2 L546.2,542.2"/>
<path d="M589.2,546.5 L589.2,537.0"/>
<path d="M594.2,546.5 L594.2,537.0"/>
<path d="M589.2,537.0 Q591.7,534.4 594.2,537.0"/>
<path d="M589.2,538.4 L594.2,538.4"/>
<path d="M589.2,541.0 L594.2,541.0"/>
<path d="M589.2,543.6 L594.2,543.6"/>
<ellipse cx="591.7" cy="548.6" rx="6.8" ry="3.4"/>
<path d="M586.5,550.8 L588.1,554.2 L595.3,554.2 L596.9,550.8"/>
<path d="M590.2,551.9 L590.2,554.2"/>
<path d="M593.5,551.9 L593.5,554.2"/>
<path d="M585.4,551.2 L557.5,574.2"/>
<path d="M616.8,52.6 L616.8,59.8"/>
<path d="M581.6,68.2 L581.6,59.8 L649.4,59.8 L649.4,96.5"/>
<path d="M581.6,88.2 L581.6,118.4 L640.6,158.8"/>
<ellipse cx="627.2" cy="107.4" rx="10.2" ry="15.6" transform="rotate(-14 627.2 107.4)"/>
<path d="M624.0,92.4 C625.0,92.0 628.8,90.1 631.0,89.5 C633.2,88.9 636.8,87.9 638.8,88.4 C640.8,88.9 643.3,91.1 644.5,93.0 C645.7,94.9 646.1,97.6 646.5,101.0 C646.9,104.4 647.1,113.4 647.2,115.6"/>
<path d="M630.5,122.6 L647.2,115.6"/>
<path d="M630.3,100.6 C630.9,101.3 633.6,104.5 634.5,106.0 C635.4,107.5 636.6,111.1 636.9,111.9"/>
<path d="M630.3,100.6 C631.0,100.9 634.5,101.4 635.5,103.0 C636.5,104.6 637.2,111.2 637.5,112.5"/>
<path d="M621.9,113.8 L630.3,110.0"/>
<path d="M642.5,96.9 L650.0,96.0 L700.6,122.2"/>
<path d="M642.5,96.9 C642.9,98.0 644.9,102.5 645.5,105.0 C646.1,107.5 647.0,114.2 647.2,115.6"/>
<path d="M647.2,115.6 L693.1,135.3"/>
<ellipse cx="661.2" cy="108.1" rx="2.0" ry="2.6" transform="rotate(-20 661.2 108.1)"/>
<ellipse cx="687.5" cy="120.9" rx="2.0" ry="2.6" transform="rotate(-20 687.5 120.9)"/>
<path d="M653.8,94.0 L662.2,89.8 L672.5,91.6" stroke-dasharray="9 3"/>
<path d="M672.5,91.6 L715.6,110.0 L740.0,115.6" stroke-dasharray="13 4"/>
<path d="M670.6,101.6 L680.0,95.9"/>
<path d="M698.8,116.6 L710.0,110.9"/>
<ellipse cx="703.4" cy="136.2" rx="10.0" ry="14.2" transform="rotate(-14 703.4 136.2)"/>
<path d="M700.5,122.4 C702.8,121.4 711.9,115.2 715.6,115.6 C719.3,116.0 723.0,122.2 725.0,125.0 C727.0,127.8 728.5,131.9 728.8,134.4 C729.1,136.9 729.1,139.7 726.9,141.9 C724.6,144.2 716.9,148.2 713.8,149.4 C710.7,150.6 707.6,150.1 706.5,150.2"/>
<path d="M706.0,127.0 C706.7,127.8 710.0,131.1 711.0,133.0 C712.0,134.9 713.2,139.9 713.5,141.0"/>
<path d="M706.0,127.0 C706.9,127.4 711.4,128.1 712.5,130.0 C713.6,131.9 713.8,139.5 714.0,141.0"/>
<path d="M713.8,141.0 L713.8,149.4"/>
<path d="M749.4,78.0 L749.4,105.2"/>
<path d="M757.3,111.0 L754.1,116.0 L747.9,116.0 L744.7,111.0 L747.9,106.0 L754.1,106.0 Z"/>
<ellipse cx="751.0" cy="111.0" rx="3.1" ry="2.8"/>
<path d="M749.7,105.3 L752.9,116.7"/>
<path d="M726.9,124.0 L744.7,114.7" stroke-dasharray="10 3"/>
<path d="M605.0,122.2 L621.9,115.6" stroke-dasharray="10 3"/>
<path d="M605.0,122.2 L683.8,148.4" stroke-dasharray="12 4"/>
<path d="M683.8,148.4 L700.6,140.0" stroke-dasharray="10 3"/>
<path d="M666.9,156.9 L681.0,150.6" stroke-dasharray="10 3"/>
<ellipse cx="645.3" cy="169.0" rx="9.2" ry="12.4" transform="rotate(-14 645.3 169.0)"/>
<path d="M641.5,157.4 C643.6,156.4 652.5,151.3 655.6,150.9 C658.7,150.5 660.5,153.0 662.2,155.0 C663.9,157.0 666.1,161.9 666.9,164.4 C667.6,166.9 668.6,169.7 667.2,171.9 C665.8,174.2 660.3,178.0 657.5,179.4 C654.7,180.8 649.9,180.9 648.5,181.2"/>
<ellipse cx="644.8" cy="170.5" rx="5.4" ry="7.4" transform="rotate(-14 644.8 170.5)"/>
<ellipse cx="644.6" cy="171.5" rx="2.8" ry="3.6" transform="rotate(-14 644.6 171.5)"/>
<path d="M641.0,165.0 L648.0,176.0"/>
<path d="M648.5,167.0 L653.0,170.5"/>
<path d="M597.6,192.3 L598.1,188.9 L601.4,187.5 L603.4,190.3 L606.1,195.5 L605.6,198.9 L601.8,199.2 L598.6,196.3 Z"/>
<path d="M598.1,188.9 L600.8,192.0 L602.5,196.7 L601.8,199.2"/>
<path d="M598.6,196.3 L601.6,194.4"/>
<ellipse cx="605.9" cy="191.8" rx="3.7" ry="7.1" transform="rotate(-27.5 605.9 191.8)"/>
<path d="M605.9,188.7 L626.3,178.1 L628.3,180.1 L628.8,182.9 L608.4,193.5"/>
<path d="M616.3,183.3 L620.2,187.4"/>
<path d="M618.5,182.2 L622.5,186.2"/>
<path d="M620.8,181.0 L624.7,185.1"/>
<path d="M623.0,179.9 L626.9,183.9"/>
<path d="M630.5,179.0 L637.5,175.6" stroke-dasharray="5 3"/>
<path d="M613.4,192.6 L643.8,204.0"/>
<path d="M1006.5,48.0 L1006.5,97.5"/>
<path d="M1006.5,56.2 L1120.6,56.2 L1120.6,68.5"/>
<path d="M1122.5,90.3 L1122.5,102.3"/>
<path d="M1184.4,45.5 L1184.4,73.4"/>
<path d="M1191.4,81.6 L1186.6,86.0 L1180.0,84.4 L1178.2,78.4 L1183.0,74.0 L1189.6,75.6 Z"/>
<ellipse cx="1184.8" cy="80.0" rx="3.4" ry="3.1"/>
<path d="M1183.4,73.9 L1186.8,86.1"/>
<path d="M1146.0,103.4 L1178.8,84.7" stroke-dasharray="12 4"/>
<ellipse cx="1123.9" cy="113.4" rx="7.7" ry="11.3" transform="rotate(-10 1123.9 113.4)"/>
<path d="M1120.5,102.3 C1122.3,101.4 1129.4,96.6 1132.5,96.4 C1135.6,96.2 1139.2,98.9 1141.1,101.2 C1143.0,103.5 1145.1,109.0 1145.4,111.6 C1145.7,114.2 1144.5,116.6 1142.8,118.4 C1141.1,120.2 1136.5,122.6 1134.2,123.6 C1131.9,124.6 1128.5,124.8 1127.5,125.0"/>
<ellipse cx="1123.5" cy="114.8" rx="4.6" ry="6.2" transform="rotate(-10 1123.5 114.8)"/>
<ellipse cx="1123.3" cy="115.6" rx="2.5" ry="3.5" transform="rotate(-10 1123.3 115.6)"/>
<path d="M1127.5,103.0 C1128.5,104.3 1133.0,108.6 1134.0,111.5 C1135.0,114.4 1134.2,120.8 1134.2,122.5"/>
<path d="M1117.0,119.3 L1095.5,131.3" stroke-dasharray="12 4"/>
<path d="M1107.6,124.5 L1131.6,139.9" stroke-dasharray="9 3.5"/>
<path d="M866.2,72.5 C866.8,71.8 869.0,68.6 870.5,67.6 C872.0,66.6 876.8,65.3 877.8,65.0"/>
<path d="M877.8,65.0 L918.1,41.6"/>
<path d="M918.1,41.6 C919.2,41.1 923.1,38.9 925.6,38.6 C928.1,38.3 933.0,38.6 935.0,39.7 C937.0,40.8 938.2,45.2 938.8,46.2"/>
<path d="M938.8,46.2 C940.2,47.5 950.0,57.0 953.8,60.0 C957.6,63.0 975.0,75.0 980.0,78.5 C985.0,82.0 1003.5,95.2 1007.0,97.8 C1010.5,100.4 1015.2,105.1 1017.3,106.4 C1019.4,107.7 1026.3,110.7 1029.4,111.6 C1032.5,112.5 1043.9,114.1 1050.0,115.9 C1056.1,117.7 1086.8,126.7 1094.7,130.5 C1102.6,134.3 1130.2,153.2 1134.2,156.2 C1138.2,159.2 1135.3,161.2 1137.7,163.1 C1140.1,165.0 1156.3,174.7 1160.0,176.9 C1163.7,179.1 1175.3,185.7 1176.9,186.6"/>
<ellipse cx="878.8" cy="72.5" rx="12.2" ry="6.9"/>
<ellipse cx="879.0" cy="72.5" rx="7.8" ry="4.4"/>
<path d="M866.2,72.5 C866.1,73.1 865.4,77.9 865.6,78.8 C865.8,79.7 867.6,81.5 868.8,81.9 C870.0,82.3 876.6,83.2 878.8,83.5 C881.0,83.8 890.3,84.4 892.5,85.0 C894.7,85.6 899.2,87.6 902.5,89.4 C905.8,91.2 923.9,101.6 927.5,103.8 C931.1,106.0 939.1,111.3 941.2,112.5 C943.3,113.7 947.7,115.5 950.0,116.2 C952.3,116.9 962.5,119.4 966.2,120.0 C969.9,120.6 986.0,122.1 990.0,122.5 C994.0,122.9 1005.4,123.8 1008.8,124.5 C1012.2,125.2 1021.1,127.9 1025.9,130.5 C1030.7,133.1 1054.7,148.5 1060.3,152.8 C1065.9,157.1 1082.4,173.2 1086.1,176.9 C1089.8,180.6 1097.1,189.6 1099.8,192.0 C1102.5,194.4 1110.8,199.2 1115.0,202.5 C1119.2,205.8 1141.5,223.8 1145.0,226.9 C1148.5,230.0 1151.5,234.8 1152.5,236.2 C1153.5,237.6 1155.9,241.4 1156.2,241.9"/>
<path d="M865.6,80.0 C865.8,80.4 866.8,83.7 867.5,84.4 C868.2,85.2 871.2,87.0 872.5,87.5 C873.8,88.0 878.1,88.2 880.0,89.4 C881.9,90.7 889.2,97.9 891.2,100.0 C893.2,102.1 898.7,108.1 900.0,110.0 C901.3,111.9 902.0,115.2 903.8,118.8 C905.5,122.4 916.1,143.5 917.5,146.2"/>
<ellipse cx="926.6" cy="46.2" rx="11.7" ry="6.4"/>
<ellipse cx="926.6" cy="46.0" rx="8.0" ry="4.0"/>
<ellipse cx="902.8" cy="61.2" rx="3.5" ry="2.0"/>
<path d="M928.1,97.5 L943.8,88.8 L952.5,93.1 L976.2,80.0"/>
<path d="M928.1,97.5 C928.2,97.9 928.1,100.3 928.8,101.0 C929.5,101.7 931.3,101.8 933.8,103.1 C936.3,104.4 946.2,110.8 950.0,112.5 C953.8,114.2 962.7,117.2 966.2,118.1 C969.7,119.0 977.7,120.4 980.0,120.6 C982.3,120.8 985.0,119.8 986.2,119.4 C987.4,119.0 989.6,117.2 990.0,116.9"/>
<ellipse cx="934.6" cy="99.1" rx="6.0" ry="4.0"/>
<ellipse cx="958.5" cy="108.5" rx="5.3" ry="3.4"/>
<path d="M943.8,88.8 C945.4,89.9 957.4,98.4 960.0,100.0 C962.6,101.6 969.0,104.0 970.0,104.4"/>
<path d="M970.0,104.4 L978.1,100.2 L998.4,107.3"/>
<path d="M970.0,104.4 C972.8,105.0 995.5,109.7 998.1,110.6 C1000.7,111.5 996.8,113.4 996.2,113.8 C995.6,114.2 992.9,114.9 992.5,115.0"/>
<path d="M946.2,116.9 L950.0,114.4"/>
<path d="M998.4,107.3 C999.8,107.9 1013.7,114.0 1019.0,116.7 C1024.3,119.4 1071.8,144.5 1077.5,147.7 C1083.2,150.9 1100.4,161.8 1105.0,164.8 C1109.6,167.8 1142.3,189.4 1146.2,192.0 C1150.1,194.6 1161.7,203.6 1162.8,204.4"/>
<path d="M1008.8,124.5 L1019.0,119.3"/>
<path d="M1013.8,112.5 L1019.4,108.1"/>
<path d="M1036.2,123.6 L1046.6,116.7"/>
<path d="M1062.0,154.5 L1074.0,148.5"/>
<path d="M1079.2,146.8 L1096.4,137.3"/>
<path d="M1103.3,164.0 L1122.2,154.5"/>
<path d="M1118.8,146.8 L1131.6,139.9"/>
<path d="M917.5,146.2 L918.1,146.9 L914.4,155.0"/>
<path d="M914.4,155.0 C914.6,156.5 915.1,163.0 916.2,166.2 C917.3,169.4 920.8,176.3 922.5,178.8 C924.2,181.3 927.1,183.8 928.8,185.0 C930.5,186.2 933.3,187.3 935.0,187.5 C936.7,187.7 940.4,186.4 941.2,186.2"/>
<path d="M941.2,186.2 L987.5,173.1"/>
<path d="M987.5,173.1 C988.0,173.2 989.8,173.1 992.5,174.4 C995.2,175.7 1012.0,184.1 1015.0,186.2 C1018.0,188.3 1020.2,191.0 1022.5,195.0 C1024.8,199.0 1036.0,222.9 1037.5,226.0"/>
<path d="M918.1,146.9 L922.5,142.5 L926.2,129.4 L930.0,131.2"/>
<path d="M923.8,143.1 L962.5,163.8"/>
<path d="M915.0,156.2 L951.9,175.0"/>
<ellipse cx="929.0" cy="177.8" rx="1.4" ry="2.3" transform="rotate(-15 929.0 177.8)"/>
<path d="M937.5,136.2 L962.5,149.6"/>
<path d="M970.0,148.8 C972.4,147.6 990.5,138.1 993.8,136.9 C997.0,135.7 999.4,135.8 1002.5,136.9 C1005.6,138.0 1020.8,144.7 1025.0,147.5 C1029.2,150.3 1041.5,160.8 1045.0,165.0 C1048.5,169.2 1057.8,186.0 1060.0,190.0 C1062.2,194.0 1066.4,202.8 1067.5,205.0 C1068.6,207.2 1070.8,211.8 1071.2,212.5"/>
<path d="M971.2,163.8 C972.4,163.3 978.4,160.8 981.2,159.4 C984.0,158.0 992.5,153.0 995.0,151.9 C997.5,150.8 1000.6,150.1 1002.5,150.2 C1004.4,150.3 1010.2,152.8 1011.2,153.1"/>
<path d="M958.8,175.0 L965.6,167.5"/>
<path d="M960.0,176.2 L976.2,168.8"/>
<path d="M984.4,164.4 L994.4,153.8"/>
<path d="M992.5,169.4 L1016.2,183.1"/>
<path d="M1027.5,161.2 C1028.5,162.1 1035.8,168.2 1037.5,170.0 C1039.2,171.8 1042.8,174.8 1045.0,178.8 C1047.2,182.8 1058.2,206.2 1060.0,210.0 C1061.8,213.8 1062.5,216.5 1062.8,217.2"/>
<path d="M1025.0,187.5 L1037.5,174.4"/>
<path d="M1025.0,191.9 L1043.1,224.5"/>
<path d="M931.0,137.1 L935.0,116.1 Q937.7,113.7 939.4,116.9 L935.4,137.9"/>
<path d="M929.1,134.2 L929.7,138.7"/>
<path d="M933.4,136.5 L934.0,140.5"/>
<path d="M964.2,153.6 L968.0,130.6 Q970.7,128.2 972.4,131.4 L968.6,154.4"/>
<path d="M962.3,150.8 L962.9,155.3"/>
<path d="M966.6,153.0 L967.2,157.0"/>
<path d="M1067.6,213.5 L1073.0,188.5 Q1075.8,186.3 1077.4,189.5 L1072.0,214.5"/>
<path d="M1065.7,210.6 L1066.3,215.1"/>
<path d="M1070.0,213.0 L1070.6,217.0"/>
<path d="M1098.0,233.1 L1102.7,206.6 Q1105.4,204.2 1107.1,207.4 L1102.4,233.9"/>
<path d="M1096.1,230.3 L1096.7,234.8"/>
<path d="M1100.4,232.5 L1101.0,236.5"/>
<path d="M1017.8,225.6 L1023.4,222.8 L1035.6,227.5 L1045.0,228.4 L1071.2,236.9 L1069.4,240.6 L1058.1,242.5 L1046.9,247.2 L1041.2,244.4 Z"/>
<ellipse cx="1026.2" cy="229.0" rx="1.6" ry="1.9"/>
<ellipse cx="1046.0" cy="240.6" rx="1.6" ry="1.9"/>
<path d="M1031.0,232.0 L1033.5,228.5 L1040.0,231.0 L1037.5,238.5 L1045.0,241.5"/>
<path d="M1064.7,228.4 L1085.3,241.6 L1076.9,249.0 L1054.4,236.9"/>
<path d="M1056.2,224.5 L1064.7,220.0"/>
<path d="M1056.2,246.2 C1057.7,248.7 1064.5,261.6 1067.5,265.0 C1070.5,268.4 1076.5,271.0 1078.8,271.6 C1081.1,272.2 1082.7,271.3 1084.4,269.7 C1086.1,268.1 1090.9,260.8 1091.9,259.4"/>
<path d="M1091.9,259.4 L1107.8,250.0 L1109.7,235.0 L1104.0,232.0"/>
<ellipse cx="1075.0" cy="264.0" rx="1.3" ry="2.0" transform="rotate(-15 1075.0 264.0)"/>
<path d="M1071.2,212.5 L1099.4,229.4"/>
<path d="M1072.2,227.5 L1104.0,247.2"/>
<path d="M1079.0,251.5 L1090.0,256.5"/>
<path d="M1090.0,265.0 C1091.4,264.8 1098.6,264.3 1103.8,262.5 C1109.0,260.7 1138.4,248.2 1142.2,246.6"/>
<path d="M1142.2,246.6 C1143.4,246.9 1150.2,248.5 1152.5,249.4 C1154.8,250.3 1159.7,253.5 1161.9,254.0 C1164.1,254.5 1169.0,254.5 1171.2,254.0 C1173.4,253.5 1178.6,250.8 1180.6,249.4 C1182.6,248.0 1186.3,243.0 1188.1,241.9 C1189.8,240.8 1191.9,241.8 1195.6,240.0 C1199.3,238.2 1216.1,229.3 1220.0,226.9 C1223.9,224.5 1228.4,221.2 1229.4,219.4 C1230.4,217.7 1228.7,212.8 1228.6,211.9"/>
<path d="M1156.2,242.5 C1156.7,243.3 1158.0,247.2 1160.0,248.4 C1162.0,249.6 1168.5,251.3 1171.2,251.2 C1173.9,251.1 1179.3,248.0 1180.6,247.5"/>
<path d="M1228.4,215.6 C1225.1,217.8 1199.6,234.8 1195.6,237.2 C1191.6,239.6 1188.8,239.7 1188.1,240.0"/>
<ellipse cx="1216.2" cy="211.0" rx="12.6" ry="7.0"/>
<ellipse cx="1216.4" cy="210.4" rx="8.0" ry="4.4"/>
<path d="M1204.0,208.0 L1204.6,213.5"/>
<ellipse cx="1168.4" cy="239.0" rx="12.0" ry="7.2"/>
<ellipse cx="1168.6" cy="238.8" rx="8.0" ry="4.4"/>
<ellipse cx="1132.4" cy="206.2" rx="7.0" ry="4.4"/>
<ellipse cx="1192.2" cy="226.9" rx="3.0" ry="1.9"/>
<path d="M1193.8,194.0 L1203.0,196.9 L1216.2,202.8"/>
<path d="M1176.9,192.2 L1195.6,173.4 L1206.9,179.0 L1208.8,185.6 L1201.2,196.9 L1193.8,194.0 L1184.4,196.9 Z"/>
<path d="M1206.9,179.0 L1190.5,194.8"/>
<ellipse cx="1183.2" cy="175.3" rx="3.2" ry="4.2" transform="rotate(-20 1183.2 175.3)"/>
<path d="M1185.0,171.5 L1190.0,173.5"/>
<path d="M1183.5,179.5 L1189.5,181.5"/>
<ellipse cx="1205.5" cy="188.5" rx="2.2" ry="3.3" transform="rotate(-20 1205.5 188.5)"/>
<ellipse cx="1192.6" cy="192.0" rx="1.8" ry="2.8" transform="rotate(-20 1192.6 192.0)"/>
<path d="M771.2,284.7 L771.2,294.0 L754.4,326.9"/>
<path d="M660.6,337.2 C661.5,336.9 668.3,334.8 671.0,333.4 C673.7,332.0 689.0,322.0 692.5,320.3 C696.0,318.6 710.9,313.7 713.1,312.8 C715.3,311.9 717.6,309.0 718.8,309.0 C720.0,309.0 726.4,312.0 727.2,312.8 C728.1,313.6 728.3,317.1 729.0,318.4 C729.7,319.6 734.6,326.9 735.6,327.8 C736.6,328.7 740.2,329.0 741.2,328.8 C742.2,328.6 746.2,324.8 747.8,325.0 C749.4,325.2 758.9,330.5 760.0,331.6 C761.1,332.7 762.1,337.1 761.5,338.1 C760.9,339.1 757.2,341.1 752.5,343.8 C747.8,346.5 709.5,367.8 705.6,370.0"/>
<path d="M705.6,370.0 C705.4,369.2 704.4,363.8 703.8,362.5 C703.2,361.2 702.1,358.4 700.0,356.9 C697.9,355.4 685.6,349.0 683.1,347.5 C680.6,346.0 676.8,342.0 674.7,341.9 C672.6,341.8 663.9,347.1 662.5,346.6 C661.1,346.1 660.8,338.1 660.6,337.2"/>
<path d="M672.8,335.3 L685.0,341.9 L696.2,336.2 L701.9,325.0 L713.1,321.2"/>
<path d="M693.4,320.3 L703.8,325.0"/>
<path d="M685.0,328.8 L696.2,334.4"/>
<path d="M694.4,351.2 L714.0,341.9 L741.2,329.7"/>
<path d="M713.1,356.0 L752.5,336.2"/>
<path d="M701.9,348.4 L714.0,356.0"/>
<path d="M726.0,336.5 L735.0,341.0"/>
<path d="M714.0,342.0 L724.0,350.0"/>
<ellipse cx="682.2" cy="335.3" rx="2.4" ry="1.6"/>
<ellipse cx="720.0" cy="314.2" rx="2.4" ry="1.6"/>
<ellipse cx="749.7" cy="330.6" rx="2.4" ry="1.6"/>
<ellipse cx="712.2" cy="351.0" rx="2.2" ry="0.9"/>
<ellipse cx="745.0" cy="343.2" rx="1.0" ry="1.7" transform="rotate(20 745.0 343.2)"/>
<ellipse cx="707.9" cy="363.8" rx="1.0" ry="1.7" transform="rotate(20 707.9 363.8)"/>
<path d="M712.4,245.0 L712.4,349.0" stroke-dasharray="12 3.5"/>
<path d="M712.4,362.5 L712.4,419.5" stroke-dasharray="11 3.5"/>
<path d="M682.8,351.2 L682.8,393.1 L713.0,377.5" stroke-dasharray="10 3.5"/>
<path d="M750.6,347.5 L750.6,389.4 L720.6,372.8" stroke-dasharray="10 3.5"/>
<path d="M720.6,362.5 L720.6,372.8"/>
<path d="M682.8,393.1 L712.5,409.8 L750.6,389.4" stroke-dasharray="10 3.5"/>
<ellipse cx="712.6" cy="425.4" rx="7.0" ry="4.2"/>
<ellipse cx="712.6" cy="424.6" rx="3.2" ry="1.9"/>
<path d="M707.0,428.0 L708.6,431.6 L716.6,431.6 L718.2,428.0"/>
<path d="M712.6,431.8 L712.6,465.5"/>
<path d="M890.3,291.6 L890.3,338.5"/>
<path d="M847.0,363.1 C847.3,362.1 850.4,361.1 851.6,360.8 C852.8,360.5 859.0,360.7 861.0,359.6 C863.0,358.5 872.8,349.6 875.1,347.9 C877.4,346.2 887.3,340.4 889.1,339.7 C890.9,339.0 895.1,340.0 896.2,339.7 C897.3,339.4 900.8,336.4 902.0,336.2 C903.2,336.0 909.2,336.9 910.2,337.3 C911.2,337.7 913.8,340.3 913.8,340.9 C913.8,341.4 911.2,343.6 910.2,343.9 C909.2,344.2 903.2,344.5 902.0,344.4 C900.8,344.3 897.4,342.8 896.2,343.2 C895.0,343.6 889.2,347.8 888.0,349.1 C886.8,350.4 883.1,357.1 882.1,358.4 C881.1,359.7 877.4,363.6 876.2,364.3 C875.0,365.0 869.2,366.6 868.0,366.6 C866.8,366.6 863.3,364.2 862.2,364.3 C861.1,364.4 856.4,367.1 855.2,367.8 C854.0,368.5 848.8,372.9 848.1,372.5 C847.4,372.1 846.7,364.1 847.0,363.1 Z"/>
<ellipse cx="866.9" cy="361.2" rx="2.2" ry="1.7"/>
<ellipse cx="904.8" cy="340.4" rx="2.2" ry="1.5"/>
<path d="M861.0,359.6 L868.0,366.6"/>
<path d="M875.1,347.9 L882.1,352.0"/>
<path d="M896.2,339.7 L896.2,343.2"/>
<path d="M851.6,360.8 L856.0,367.5"/>
<path d="M927.3,374.8 L927.3,413.5"/>
<path d="M877.0,378.4 L883.3,374.8 L910.2,365.5 L930.2,351.4 L936.0,350.2 L945.4,357.3 L943.0,362.0 L937.2,364.3 L937.2,370.2 L927.8,374.8 L913.8,377.2 L900.9,385.4 L899.7,391.2 L890.3,396.0 L888.0,387.7 Z"/>
<path d="M888.0,387.7 L913.0,372.5 L925.0,369.0 L937.2,364.3"/>
<path d="M896.0,369.8 L906.0,377.5"/>
<path d="M910.2,365.5 L920.0,371.0"/>
<path d="M922.0,357.0 L931.0,363.5"/>
<ellipse cx="896.2" cy="376.5" rx="2.2" ry="1.5"/>
<ellipse cx="934.8" cy="356.6" rx="2.2" ry="1.5"/>
<ellipse cx="893.1" cy="390.5" rx="1.0" ry="1.6" transform="rotate(20 893.1 390.5)"/>
<ellipse cx="930.2" cy="369.0" rx="1.0" ry="1.6" transform="rotate(20 930.2 369.0)"/>
<rect x="536.0" y="66.2" width="94.6" height="26.3" fill="#ff0000" fill-opacity="0.5" stroke="none"/>
<rect x="1078.2" y="69.2" width="94.8" height="26.5" fill="#ff0000" fill-opacity="0.5" stroke="none"/>
</svg>
<div id="bar"></div>
<svg id="cap" style="will-change:transform;opacity:0.999" width="1280" height="768" viewBox="0 0 1280 768" font-family="Liberation Sans, sans-serif" font-size="51" fill="#ffffff">
<text transform="translate(223.76,727) scale(0.850,1)">S</text><text transform="translate(253.66,727) scale(0.875,1)">U</text><text transform="translate(287.33,727) scale(0.930,1)">B</text><text transform="translate(319.95,727) scale(0.900,1)">A</text><text transform="translate(352.86,727) scale(0.850,1)">R</text><text transform="translate(384.47,727) scale(0.875,1)">U</text> <text transform="translate(428.36,727) scale(0.960,1)">-</text> <text transform="translate(456.00,727) scale(1.050,1)">4</text><text transform="translate(486.90,727) scale(0.720,1)">1</text><text transform="translate(510.43,727) scale(1.050,1)">3</text><text transform="translate(539.96,727) scale(1.050,1)">2</text><text transform="translate(569.50,727) scale(1.050,1)">2</text><text transform="translate(599.35,727) scale(0.860,1)">a</text><text transform="translate(628.89,727) scale(0.860,1)">a</text><text transform="translate(655.47,727) scale(1.050,1)">0</text><text transform="translate(684.48,727) scale(1.050,1)">2</text><text transform="translate(715.38,727) scale(0.720,1)">1</text> <text transform="translate(803.82,727) scale(0.980,1)">N</text> <text transform="translate(851.87,727) scale(0.960,1)">-</text> <text transform="translate(879.55,727) scale(1.050,1)">4</text><text transform="translate(910.40,727) scale(0.720,1)">1</text><text transform="translate(937.55,727) scale(1.050,1)">3</text><text transform="translate(965.67,727) scale(1.050,1)">2</text><text transform="translate(994.38,727) scale(1.050,1)">6</text><text transform="translate(1024.25,727) scale(0.900,1)">A</text>
</svg>
</body></html>
